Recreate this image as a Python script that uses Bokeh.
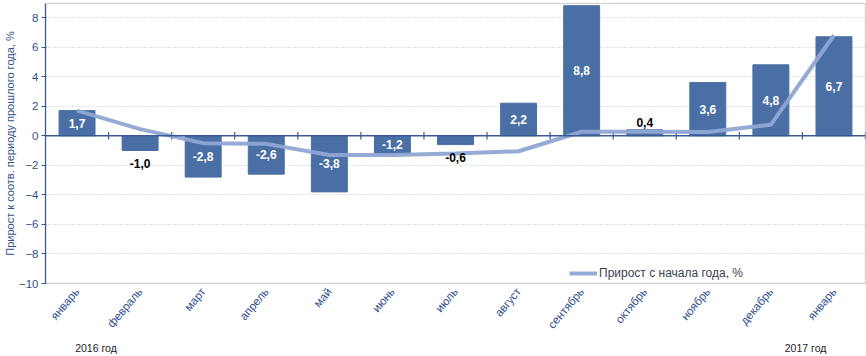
from bokeh.plotting import figure
from bokeh.models import (Range1d, FixedTicker, Span, ColumnDataSource,
                          Legend, LegendItem, LinearAxis)
from bokeh.embed import file_html
from bokeh.resources import INLINE
from bokeh.core.properties import value

# ---- data ----
months = ["январь", "февраль", "март", "апрель", "май", "июнь", "июль",
          "август", "сентябрь", "октябрь", "ноябрь", "декабрь", "январь"]
yoy = [1.7, -1.0, -2.8, -2.6, -3.8, -1.2, -0.6, 2.2, 8.8, 0.4, 3.6, 4.8, 6.7]
ytd = [1.7, 0.45, -0.5, -0.55, -1.3, -1.3, -1.2, -1.05, 0.27, 0.27, 0.25, 0.75, 6.8]
y_ticks = [-10, -8, -6, -4, -2, 0, 2, 4, 6, 8]
year_labels = ["2016 год", "2017 год"]
y_title = "Прирост к соотв. периоду прошлого года, %"
line_name = "Прирост с начала года, %"

FONT = "Liberation Sans"
BLUE_TXT = "#2F4F8F"
AXIS = "#3A5A95"
BAR = "#4A6FA5"
LINE = "#8FA6D3"

n = len(months)
xs = list(range(n))

p = figure(width=866, height=356, output_backend="svg", toolbar_location=None,
           x_range=Range1d(-0.5, n - 0.5), y_range=Range1d(-10, 8.95),
           min_border_left=0, min_border_right=1, min_border_top=3,
           min_border_bottom=73)
p.outline_line_color = "#d6d6d6"
p.outline_line_width = 1.5
p.background_fill_color = "white"
p.border_fill_color = "white"

# bars
p.vbar(x=xs, top=yoy, bottom=0, width=0.57, color=BAR)

# zero axis line and category ticks
p.add_layout(Span(location=0, dimension="width", line_color=AXIS, line_width=1.5))
bx = [i + 0.5 for i in range(n)]
p.segment(x0=bx, x1=bx, y0=[-0.25] * n, y1=[0.25] * n, line_color=AXIS, line_width=1.2)

# cumulative line
line_r = p.line(xs, ytd, line_color=LINE, line_width=4, line_alpha=0.95)

# value labels
inside = [abs(v) > 1.05 for v in yoy]
lbl_y = [v / 2 if ins else (v - 0.9 if v < 0 else v + 0.5) for v, ins in zip(yoy, inside)]
lbl_c = ["white" if ins else "black" for ins in inside]
lbl_t = [f"{v:.1f}".replace(".", ",") for v in yoy]
src = ColumnDataSource(dict(x=xs, y=lbl_y, t=lbl_t, c=lbl_c))
p.text(x="x", y="y", text="t", text_color="c", source=src, text_align="center",
       text_baseline="middle", text_font=value(FONT), text_font_style="bold",
       text_font_size="12px")

# y axis
ya = p.yaxis[0]
ya.ticker = FixedTicker(ticks=y_ticks)
ya.axis_label = y_title
ya.axis_label_text_font = FONT
ya.axis_label_text_font_style = "normal"
ya.axis_label_text_font_size = "11px"
ya.axis_label_text_color = BLUE_TXT
ya.axis_label_standoff = 0
ya.major_label_text_font = FONT
ya.major_label_text_font_size = "11.5px"
ya.major_label_text_color = BLUE_TXT
ya.major_label_standoff = 3
ya.axis_line_color = AXIS
ya.axis_line_width = 1.2
ya.major_tick_line_color = AXIS
ya.major_tick_out = 4
ya.major_tick_in = 1
ya.minor_tick_line_color = None

# month axis
xa = p.xaxis[0]
xa.ticker = FixedTicker(ticks=xs)
xa.major_label_overrides = {i: m for i, m in enumerate(months)}
xa.major_label_orientation = 0.87
xa.major_label_text_font = FONT
xa.major_label_text_font_size = "11.5px"
xa.major_label_text_color = BLUE_TXT
xa.major_label_standoff = 6
xa.axis_line_color = None
xa.major_tick_line_color = None
xa.major_tick_out = 0
xa.major_tick_in = 0
xa.minor_tick_line_color = None

# year axis (second row below)
year_pos = [0.3, n - 1.45]
year_axis = LinearAxis(ticker=FixedTicker(ticks=year_pos),
                       major_label_overrides={year_pos[0]: year_labels[0],
                                              year_pos[1]: year_labels[1]},
                       axis_line_color=None, major_tick_line_color=None,
                       major_tick_out=0, major_tick_in=0,
                       minor_tick_line_color=None, major_label_standoff=4,
                       major_label_text_font=FONT, major_label_text_font_size="10.5px",
                       major_label_text_color="#222222")
p.add_layout(year_axis, "below")

p.xgrid.grid_line_color = None
p.ygrid.ticker = FixedTicker(ticks=y_ticks)
p.ygrid.grid_line_color = "#c4c4c4"
p.ygrid.grid_line_dash = "1 2"
p.ygrid.grid_line_width = 1

legend = Legend(items=[LegendItem(label=line_name, renderers=[line_r])],
                location=(524, 3), orientation="horizontal",
                glyph_width=28, glyph_height=10, label_text_font=FONT,
                label_text_font_size="12px", label_text_color="#3a4150",
                padding=0, margin=0, spacing=0, label_standoff=2,
                border_line_color=None, background_fill_alpha=0)
p.add_layout(legend)

open("out.html", "w").write(file_html(p, INLINE))
